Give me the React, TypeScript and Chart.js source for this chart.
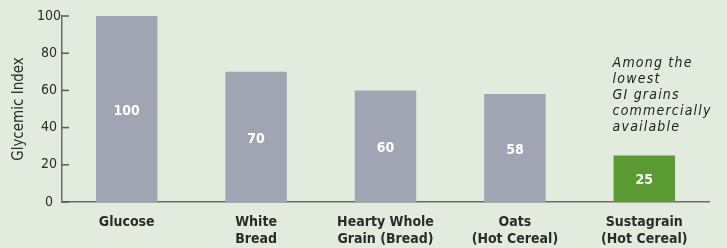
import React, { useEffect, useRef } from "react";
import { Chart, registerables } from "chart.js";

Chart.register(...registerables);

const categories: string[][] = [
  ["Glucose"],
  ["White", "Bread"],
  ["Hearty Whole", "Grain (Bread)"],
  ["Oats", "(Hot Cereal)"],
  ["Sustagrain", "(Hot Cereal)"],
];
const giValues: number[] = [100, 70, 60, 58, 25];
const barColors: string[] = ["#a1a4b3", "#a1a4b3", "#a1a4b3", "#a1a4b3", "#5c9a33"];
const yTicks: number[] = [0, 20, 40, 60, 80, 100];
const annotationLines: string[] = ["Among the", "lowest", "GI grains", "commercially", "available"];
const yTitle = "Glycemic Index";

const FONT = "'DejaVu Sans Condensed', 'Liberation Sans', sans-serif";

const extrasPlugin = {
  id: "extras",
  afterDatasetsDraw(chart: any) {
    const ctx = chart.ctx as CanvasRenderingContext2D;
    const y = chart.scales.y;
    const x = chart.scales.x;
    const meta = chart.getDatasetMeta(0);
    ctx.save();
    // inward ticks on y axis
    ctx.strokeStyle = "#5a5a5a";
    ctx.lineWidth = 1.5;
    yTicks.forEach((v) => {
      const py = y.getPixelForValue(v);
      ctx.beginPath();
      ctx.moveTo(x.left, py);
      ctx.lineTo(x.left + 7, py);
      ctx.stroke();
    });
    // value labels
    ctx.fillStyle = "#ffffff";
    ctx.font = `bold 14px ${FONT}`;
    ctx.textAlign = "center";
    ctx.textBaseline = "middle";
    meta.data.forEach((bar: any, i: number) => {
      const top = bar.y;
      const base = bar.base;
      ctx.fillText(String(giValues[i]), bar.x, (top + base) / 2 + 2);
    });
    // annotation
    const last = meta.data[meta.data.length - 1] as any;
    const left = last.x - last.width / 2 - 1;
    ctx.fillStyle = "#1e1e1e";
    ctx.font = `italic 14px ${FONT}`;
    (ctx as any).letterSpacing = "1.2px";
    ctx.textAlign = "left";
    ctx.textBaseline = "alphabetic";
    annotationLines.forEach((line, i) => {
      ctx.fillText(line, left, y.getPixelForValue(100) + 51 + i * 16);
    });
    ctx.restore();
  },
};

export default function App() {
  const ref = useRef<HTMLCanvasElement | null>(null);
  useEffect(() => {
    document.body.style.margin = "0";
    document.body.style.background = "#e3ebdf";
    const canvas = ref.current!;
    const chart = new Chart(canvas, {
      type: "bar",
      data: {
        labels: categories,
        datasets: [
          {
            data: giValues,
            backgroundColor: barColors,
            borderWidth: 0,
            categoryPercentage: 1,
            barPercentage: 0.475,
          },
        ],
      },
      options: {
        animation: false,
        responsive: false,
        maintainAspectRatio: false,
        layout: { padding: { top: 16, right: 18, left: 0, bottom: 0 } },
        plugins: { legend: { display: false }, tooltip: { enabled: false } },
        scales: {
          x: {
            grid: { display: false, drawTicks: false },
            border: { display: true, color: "#6a6a6a", width: 1.5 },
            ticks: {
              color: "#2b2b2b",
              font: { family: FONT, size: 14, weight: "bold", lineHeight: 1.2 },
              padding: 12,
              maxRotation: 0,
              autoSkip: false,
            },
            afterFit: (s: any) => {
              s.height = 46;
            },
          },
          y: {
            min: 0,
            max: 100,
            afterBuildTicks: (s: any) => {
              s.ticks = yTicks.map((v) => ({ value: v }));
            },
            grid: { display: false, drawTicks: false },
            border: { display: true, color: "#6a6a6a", width: 1.5 },
            ticks: {
              color: "#2b2b2b",
              font: { family: FONT, size: 14 },
              padding: 1,
              crossAlign: "center",
            },
            title: {
              display: true,
              text: yTitle,
              color: "#2b2b2b",
              font: { family: FONT, size: 15 },
              padding: { top: 10, bottom: 0 },
            },
            afterFit: (s: any) => {
              s.width = 62;
            },
          },
        },
      },
      plugins: [extrasPlugin],
    });
    return () => chart.destroy();
  }, []);
  return (
    <div style={{ width: 727, height: 248, background: "#e3ebdf" }}>
      <canvas ref={ref} width={727} height={248} style={{ display: "block" }} />
    </div>
  );
}
